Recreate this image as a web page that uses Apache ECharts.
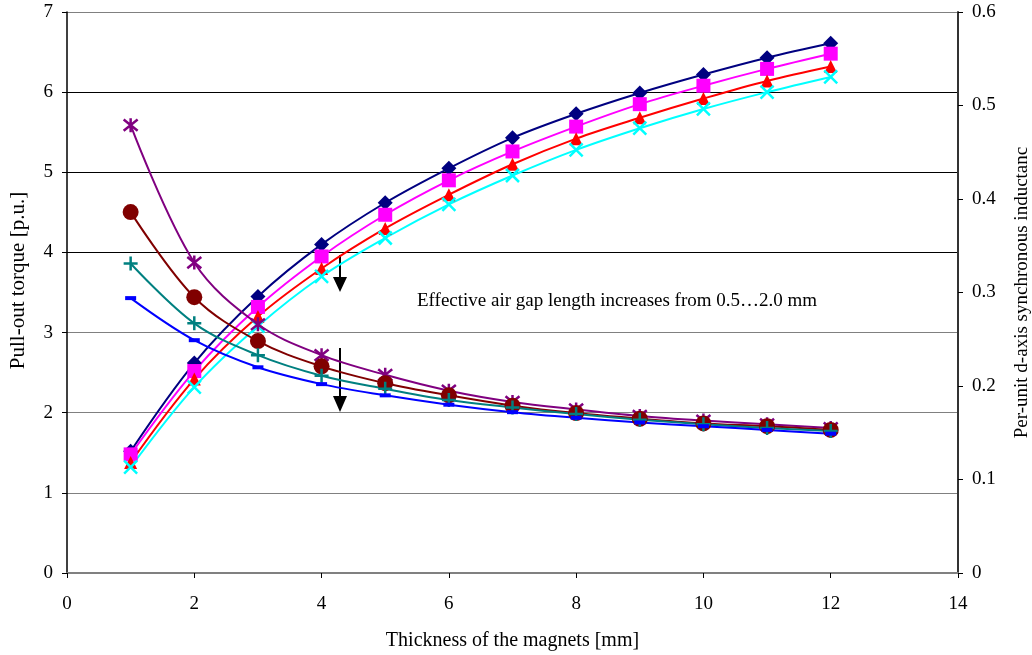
<!DOCTYPE html>
<html>
<head>
<meta charset="utf-8">
<script src="https://cdn.jsdelivr.net/npm/echarts@6/dist/echarts.min.js"></script>
<style>
  html, body { margin: 0; padding: 0; background: #fff; }
  #chart { width: 1032px; height: 655px; }
</style>
</head>
<body>
<div id="chart"></div>
<script>
// 磁铁厚度 (mm)
var thickness = [1, 2, 3, 4, 5, 6, 7, 8, 9, 10, 11, 12];

// pull-out torque, left axis
var torqueA = [1.52, 2.62, 3.45, 4.10, 4.62, 5.05, 5.43, 5.73, 5.99, 6.22, 6.43, 6.61];
var torqueB = [1.48, 2.52, 3.32, 3.95, 4.47, 4.90, 5.26, 5.57, 5.85, 6.08, 6.29, 6.48];
var torqueC = [1.38, 2.42, 3.20, 3.80, 4.30, 4.72, 5.10, 5.42, 5.68, 5.92, 6.14, 6.32];
var torqueD = [1.32, 2.32, 3.08, 3.70, 4.18, 4.60, 4.96, 5.28, 5.55, 5.79, 6.00, 6.19];

// d-axis inductance, right axis
var indA = [0.479, 0.332, 0.266, 0.233, 0.212, 0.195, 0.183, 0.175, 0.168, 0.163, 0.159, 0.155];
var indB = [0.386, 0.295, 0.248, 0.221, 0.203, 0.190, 0.179, 0.171, 0.165, 0.160, 0.157, 0.153];
var indC = [0.331, 0.267, 0.233, 0.211, 0.197, 0.185, 0.177, 0.170, 0.164, 0.159, 0.155, 0.152];
var indD = [0.294, 0.249, 0.220, 0.202, 0.190, 0.180, 0.172, 0.166, 0.161, 0.157, 0.153, 0.149];

var FONT = 'Liberation Serif';
var SYM_X = 'path://M0,0L10,10M10,0L0,10';
var SYM_STAR = 'path://M0,1L10,9M10,1L0,9M5,0L5,10';
var SYM_PLUS = 'path://M5,0L5,10M0,5L10,5';

function pairs(ys) {
    return thickness.map(function (x, i) { return [x, ys[i]]; });
}

function mk(name, ys, axis, color, symbol, size, stroked) {
    var s = {
        name: name,
        type: 'line',
        yAxisIndex: axis,
        data: pairs(ys),
        smooth: 0.35,
        symbol: symbol,
        symbolSize: size,
        showSymbol: true,
        lineStyle: { color: color, width: 2 },
        itemStyle: { color: color },
        z: axis === 1 ? 4 : 3
    };
    if (stroked) {
        s.itemStyle = { color: 'none', borderColor: color, borderWidth: 2.5 };
    }
    return s;
}

var myChart = echarts.init(document.getElementById('chart'));

var option = {
    animation: false,
    backgroundColor: '#fff',
    grid: { left: 67, right: 74, top: 12, bottom: 82, containLabel: false, outerBoundsMode: 'none' },
    xAxis: {
        type: 'value',
        min: 0, max: 14, interval: 2,
        name: 'Thickness of the magnets [mm]',
        nameLocation: 'middle',
        nameGap: 58,
        nameTextStyle: { fontFamily: FONT, fontSize: 20, color: '#000' },
        axisLine: { lineStyle: { color: '#808080', width: 2 } },
        axisTick: { show: true, inside: false, length: 5, lineStyle: { color: '#000' } },
        axisLabel: { fontFamily: FONT, fontSize: 19, color: '#000', margin: 22 },
        splitLine: { show: false }
    },
    yAxis: [{
        type: 'value',
        min: 0, max: 7, interval: 1,
        name: 'Pull-out torque [p.u.]',
        nameLocation: 'middle',
        nameGap: 38,
        nameRotate: 90,
        nameTextStyle: { fontFamily: FONT, fontSize: 21, color: '#000', padding: [0, 0, 0, 24] },
        axisLine: { show: true, lineStyle: { color: '#000', width: 1.5 } },
        axisTick: { show: true, length: 5, lineStyle: { color: '#000' } },
        axisLabel: { fontFamily: FONT, fontSize: 19, color: '#000', margin: 14 },
        splitLine: {
            show: true,
            lineStyle: {
                color: ['#808080', '#808080', '#808080', '#808080', '#000', '#000', '#000', '#808080'],
                width: 1.2
            }
        }
    }, {
        type: 'value',
        min: 0, max: 0.6, interval: 0.1,
        position: 'right',
        name: 'Per-unit d-axis synchronous inductanc',
        nameLocation: 'middle',
        nameGap: 55,
        nameRotate: 90,
        nameTextStyle: { fontFamily: FONT, fontSize: 19, color: '#000' },
        axisLine: { show: true, lineStyle: { color: '#333', width: 2 } },
        axisTick: { show: true, length: 5, lineStyle: { color: '#000' } },
        axisLabel: { fontFamily: FONT, fontSize: 19, color: '#000', margin: 14 },
        splitLine: { show: false }
    }],
    series: [
        mk('torque 0.5', torqueA, 0, '#000080', 'diamond', 15),
        mk('torque 1.0', torqueB, 0, '#ff00ff', 'rect', 14),
        mk('torque 1.5', torqueC, 0, '#ff0000', 'triangle', 13),
        mk('torque 2.0', torqueD, 0, '#00ffff', SYM_X, 13, true),
        mk('ind 0.5', indA, 1, '#800080', SYM_STAR, 14, true),
        mk('ind 1.0', indB, 1, '#800000', 'circle', 16),
        mk('ind 1.5', indC, 1, '#008080', SYM_PLUS, 14, true),
        mk('ind 2.0', indD, 1, '#0000ff', 'rect', [11, 4])
    ],
    graphic: [
        { type: 'line', shape: { x1: 340, y1: 255, x2: 340, y2: 280 }, style: { stroke: '#000', lineWidth: 2 } },
        { type: 'polygon', shape: { points: [[333, 277], [347, 277], [340, 292]] }, style: { fill: '#000' } },
        { type: 'line', shape: { x1: 340, y1: 348, x2: 340, y2: 398 }, style: { stroke: '#000', lineWidth: 2 } },
        { type: 'polygon', shape: { points: [[333, 396], [347, 396], [340, 412]] }, style: { fill: '#000' } },
        {
            type: 'text', left: 417, top: 292,
            style: {
                text: 'Effective air gap length increases from 0.5\u20262.0 mm',
                font: '19px "Liberation Serif"', fill: '#000'
            }
        }
    ]
};

myChart.setOption(option);
</script>
</body>
</html>
